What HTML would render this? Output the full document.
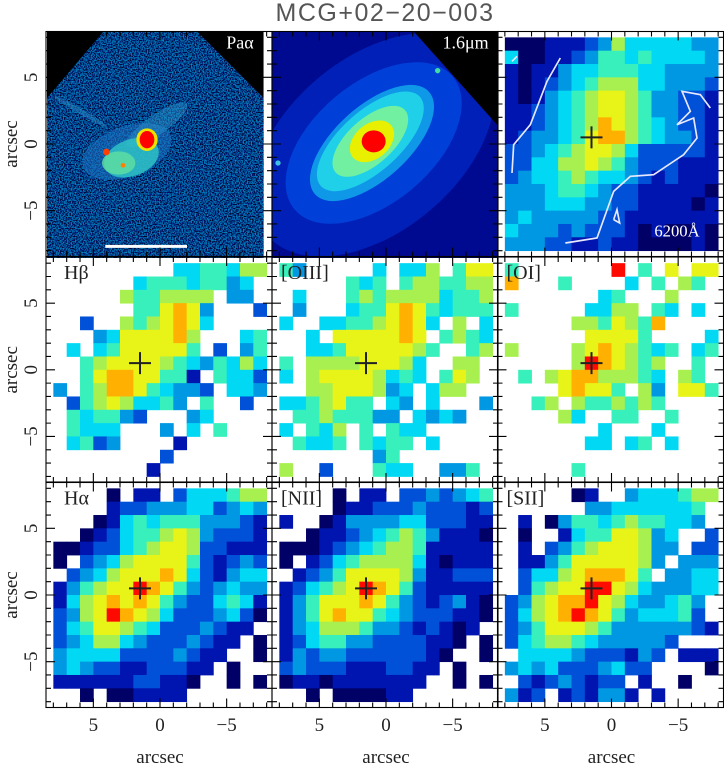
<!DOCTYPE html>
<html><head><meta charset="utf-8"><style>
html,body{margin:0;padding:0;background:#fff;}
svg{display:block;}
text{font-family:"Liberation Serif",serif;}
</style></head><body>
<svg id="fig" xmlns="http://www.w3.org/2000/svg" width="724" height="765" viewBox="0 0 724 765">
<defs>
<clipPath id="clipPa"><rect x="0" y="10" width="650" height="680"/></clipPath>
<clipPath id="clipH"><rect x="675" y="10" width="675" height="680"/></clipPath>
<filter id="speck" x="0" y="0" width="100%" height="100%">
<feTurbulence type="fractalNoise" baseFrequency="0.25" numOctaves="1" seed="3" result="n"/>
<feColorMatrix in="n" type="matrix" values="0 0 0 0 0  0 0 0 1.4 -0.6  0 0 0 2.0 -0.65  0 0 0 0 1" result="c"/>
<feComposite in="c" in2="SourceGraphic" operator="in"/>
</filter>
</defs>
<text x="385" y="21" text-anchor="middle" font-size="25" fill="#555" style="font-family:'Liberation Sans',sans-serif;letter-spacing:1.5px">MCG+02−20−003</text>

<g transform="translate(47,28) scale(0.33333)" clip-path="url(#clipPa)">
<rect x="0" y="10" width="650" height="680" fill="#000"/>
<polygon points="170,10 450,10 650,210 650,690 0,690 0,210" fill="#061c60"/>
<polygon points="170,10 450,10 650,210 650,690 0,690 0,210" fill="#000" filter="url(#speck)" opacity="0.75"/>
<ellipse cx="240" cy="370" rx="140" ry="75" fill="#1a70c0" opacity="0.6" transform="rotate(-20 240 370)"/>
<ellipse cx="330" cy="290" rx="110" ry="30" fill="#2a90c8" opacity="0.5" transform="rotate(-35 330 290)"/>
<ellipse cx="100" cy="250" rx="90" ry="8" fill="#2a8cc8" opacity="0.5" transform="rotate(30 100 250)"/>
<ellipse cx="250" cy="390" rx="85" ry="55" fill="#30c8c8" opacity="0.8" transform="rotate(-20 250 380)"/>
<ellipse cx="215" cy="405" rx="50" ry="35" fill="#60e0a0" opacity="0.8"/>
<ellipse cx="300" cy="335" rx="32" ry="34" fill="#f0e000"/>
<ellipse cx="300" cy="335" rx="22" ry="26" fill="#ff0000"/>
<circle cx="178" cy="372" r="10" fill="#ff4000"/>
<circle cx="228" cy="412" r="7" fill="#ff8000"/>
<line x1="175" y1="655" x2="420" y2="655" stroke="#fff" stroke-width="9"/>
<text x="620" y="62" text-anchor="end" font-size="54" fill="#fff">Paα</text>
</g>

<g transform="translate(47,28) scale(0.33333)" clip-path="url(#clipH)">
<rect x="675" y="10" width="675" height="680" fill="#000a90"/>
<ellipse cx="980" cy="350" rx="420" ry="260" fill="#0020b8" transform="rotate(-40 980 350)"/>
<ellipse cx="980" cy="345" rx="310" ry="180" fill="#0040d8" transform="rotate(-40 980 345)"/>
<ellipse cx="975" cy="345" rx="230" ry="110" fill="#1098e8" transform="rotate(-42 975 345)"/>
<ellipse cx="970" cy="340" rx="200" ry="90" fill="#20d0e8" transform="rotate(-42 970 340)"/>
<ellipse cx="970" cy="340" rx="140" ry="68" fill="#70f0a0" transform="rotate(-42 970 340)"/>
<ellipse cx="975" cy="340" rx="75" ry="52" fill="#e8f000" transform="rotate(-40 975 340)"/>
<ellipse cx="980" cy="340" rx="36" ry="33" fill="#ff0000"/>
<polygon points="1100,10 1350,10 1350,290" fill="#000"/>
<circle cx="1172" cy="128" r="8" fill="#40e0a0"/>
<circle cx="693" cy="405" r="8" fill="#40c0e0"/>
<text x="1325" y="62" text-anchor="end" font-size="54" fill="#fff">1.6μm</text>
</g>

<g id="maps"></g>

<g transform="translate(497,28) scale(0.33333)" fill="none" stroke="#e8e8ff" stroke-width="5">
<polyline points="45,435 50,350 100,290 150,160 190,90"/>
<polyline points="45,100 60,85"/>
<polyline points="205,645 300,630 350,490 400,445 470,440 560,380 600,330 590,270 540,290 580,250 555,190 610,200 640,240"/>
<polyline points="350,575 360,545 368,585 350,575"/>
<text x="540" y="625" text-anchor="middle" font-size="50" fill="#fff" stroke="none">6200Å</text>
</g>

<g id="axes"></g>
</svg>
<script>
// ---- data ----
const cont6200Rows = ["0001112364444433","4001123554544443","1011344555443333","1012345666443332","1013456776533221","1123456776533221","1123456876543221","1233457886543321","2234567764222221","2244667653222111","2344565443212111","3334554322111110","3334443322111101","3433333221111111","4333232221010010","3332211211000010"];
const hbetaRows = [".........4455466","......455545534.",".....6556666.33.","......557873...2","..2..6567874....","...34777786...45",".4.45777775.2.35","..56777765435464","..578877551.5442","3.5688754332.443",".256764453.5..2.",".545532...34....",".5444...3.4.5...",".4523....1......","........2.......",".......1........"];
const oiiiRows = ["53.....4.446.577",".....545.5665566",".4...56566664556",".3...45578754555","4..445567874.6.4","..4.7777787.5654","..4457777765..56","5.666677764..66.","4.677776454.576.","..66777634.466..","4456755.43.4...3",".55655533.4343..","4.546.5.544.....",".5445.5455.4....",".......35.......","6..2...544..335."];
const oiRows = ["5.......9.5.7.77","8...5....4.5.65.",".......45...6...","5.....4466.54.4.",".....6657658....","......77775....4","6....67876545.45",".....6987656..5.",".5.678866654.65.","....78775.63.775","..56.6556565....","....64..55..5...",".......4...4....","......44.45.4...","................",".....5.........."];
const halphaRows = ["....0.11.2444566","....122333442343","...0145455533321","..01245567632221","0012245677622111","0.23467777521232",".234677787421344","1356779875323433","1467878753224541","2367987642223420","245776542223211.","23466432223211.0","3444422223211..0","343221122211.0..","11111122110..0.0","..0.001111......"];
const niiRows = ["....0.11.2232345","....011222322212","1..0133334422211","..01123456531110","0001234566511111","0.12456666410111",".123577776311222","1245679875211111","1357778753212310","1357877543222110","134666533212101.","12455332222110.0","1323322222210..0","232221112211.0..","01101111111..0.0","..0.000011......"];
const siiRows = [".....01..3444566","......334444445.",".1.035545655443.",".0..145577634..2",".1.2356777633.22",".11357777763.333",".2446788875.3344",".256779976433344","236788976433453.","246789875344452.","2357776533333321","2456654333332...",".44443222132.111","34342223422....0",".21232122.1..0..","312.121331.1...."];
const nucleusX = [1.5];
const nucleusY = [0.5];
const tickLabels = [5, 0, -5];
// ---- styling / layout ----
const palette = ['#000066','#0014b0','#0050d8','#0098e2','#00d8f4','#38f0bc','#a8f050','#e8f418','#ffb000','#ff0a00'];
const S = 13.33;
const PX = [46, 272, 497.5], PY = [31.5, 257, 482.5], PW = 226, PH = 225;
const CXo = 114, CYo = [112.5, 112.8, 112.5];
const NS = 'http://www.w3.org/2000/svg';
function mk(tag, attrs, parent){ const e=document.createElementNS(NS,tag); for(const k in attrs) e.setAttribute(k,attrs[k]); parent.appendChild(e); return e; }
function xScale(c, a){ return PX[c] + CXo - a*S; }
function yScale(r, a){ return PY[r] + CYo[r] - a*S; }

const maps = document.getElementById('maps');
const panels = [
  {rows: cont6200Rows, c:2, r:0, name:'continuum-6200-map', label:null},
  {rows: hbetaRows, c:0, r:1, name:'hbeta-map', label:'Hβ'},
  {rows: oiiiRows, c:1, r:1, name:'oiii-map', label:'[OIII]'},
  {rows: oiRows, c:2, r:1, name:'oi-map', label:'[OI]'},
  {rows: halphaRows, c:0, r:2, name:'halpha-map', label:'Hα'},
  {rows: niiRows, c:1, r:2, name:'nii-map', label:'[NII]'},
  {rows: siiRows, c:2, r:2, name:'sii-map', label:'[SII]'}
];
panels.forEach(p => {
  const g = mk('g', {}, maps);
  
  
  p.rows.forEach((row, i) => {
    for (let j = 0; j < row.length; j++) {
      const ch = row[j];
      if (ch === '.') continue;
      const ax = 7.5 - j, ay = 7.5 - i;
      const x0 = xScale(p.c, ax + 0.5), y0 = yScale(p.r, ay + 0.5);
      const rc = mk('rect', {x: x0.toFixed(2), y: y0.toFixed(2), width: (S+0.4).toFixed(2), height: (S+0.4).toFixed(2), fill: palette[+ch]}, g);
      
      
    }
  });
  if (p.label) {
    const t = mk('text', {x: PX[p.c] + (p.label[0]==='[' ? 9 : 18), y: PY[p.r] + 22, 'font-size': 20, fill: '#222'}, g);
    t.textContent = p.label;
    
    
  }
});

const axes = document.getElementById('axes');
for (let c = 0; c < 3; c++) for (let r = 0; r < 3; r++) {
  const g = mk('g', {stroke: '#000', 'stroke-width': 1.1, fill: 'none'}, axes);
  
  
  if (!(r === 0 && c < 2)) {
    nucleusX.forEach((nx, k) => {
      const x = xScale(c, nx), y = yScale(r, nucleusY[k]);
      const cr = mk('path', {d: `M${x-11},${y}H${x+11}M${x},${y-11}V${y+11}`, stroke: '#222', 'stroke-width': 2}, g);
      
      
    });
  }
  const L = PX[c], T = PY[r], R = L + PW, B = T + PH;
  mk('rect', {x: L, y: T, width: PW, height: PH}, g);
  let d = '';
  for (let k = -8; k <= 8; k++) {
    const len = (k % 5 === 0) ? 9 : 5;
    const x = xScale(c, k), y = yScale(r, k);
    d += `M${x},${B}v${-len}M${x},${T}v${len}M${L},${y}h${len}M${R},${y}h${-len}`;
  }
  mk('path', {d: d}, g);
}
tickLabels.forEach(v => {
  for (let c = 0; c < 3; c++) {
    const t = mk('text', {x: xScale(c, v), y: 731, 'text-anchor': 'middle', 'font-size': 19, fill: '#222'}, axes);
    t.textContent = v < 0 ? '−' + (-v) : String(v);
    
    
  }
  for (let r = 0; r < 3; r++) {
    const y = yScale(r, v);
    const t = mk('text', {x: 37, y: y, transform: `rotate(-90 37 ${y})`, 'text-anchor': 'middle', 'font-size': 19, fill: '#222'}, axes);
    t.textContent = v < 0 ? '−' + (-v) : String(v);
    
    
  }
});
for (let c = 0; c < 3; c++) {
  const t = mk('text', {x: PX[c] + CXo, y: 763, 'text-anchor': 'middle', 'font-size': 19, fill: '#222'}, axes);
  t.textContent = 'arcsec';
  
  
}
for (let r = 0; r < 3; r++) {
  const y = PY[r] + CYo[r];
  const t = mk('text', {x: 17, y: y, transform: `rotate(-90 17 ${y})`, 'text-anchor': 'middle', 'font-size': 19, fill: '#222'}, axes);
  t.textContent = 'arcsec';
  
  
}
</script>
</body></html>
